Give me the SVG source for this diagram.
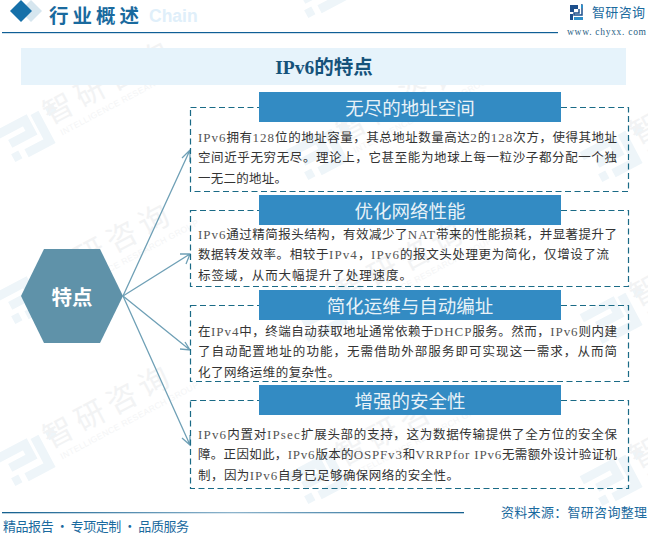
<svg xmlns="http://www.w3.org/2000/svg" width="648" height="534" viewBox="0 0 648 534">
<style>
.b{font-family:"Noto Sans CJK SC","Liberation Sans",sans-serif;font-size:12.5px;fill:#333}
.l{font-family:"Liberation Serif","Noto Sans CJK SC",serif;font-size:13px;letter-spacing:.5px;fill:#555}
.h{font-family:"Noto Sans CJK SC",sans-serif;font-size:18.5px;fill:#e8f2f8;text-anchor:middle}
.bar{fill:#338bc3}
.box{fill:none;stroke:#1a6a86;stroke-width:1.2;stroke-dasharray:6 3.500}
.a{fill:none;stroke:#6fa0b6;stroke-width:1.3}
.w{font-family:"Noto Sans CJK SC",sans-serif;font-size:30px;letter-spacing:6px;fill:#f2f3f4}
.ws{font-family:"Liberation Sans",sans-serif;font-size:8.500px;letter-spacing:.4px;fill:#f4f5f6}
.lg{fill:none;stroke:#eef5f9;stroke-width:9}
</style>
<defs>
<g id="wm">
<path class="lg" d="M-54 -16H-20V-2H-44M-48 12H-40M-8 -18V14H-34M8 -18V-8"/>
<text class="w" x="0" y="0">智研咨询</text>
<text class="ws" x="6" y="15">INTELLIGENCE RESEARCH GROUP</text>
</g>
<linearGradient id="fl"><stop offset="0" stop-color="#14608f"/><stop offset=".5" stop-color="#8db4cc"/><stop offset="1" stop-color="#14608f"/></linearGradient>
</defs>
<rect width="648" height="534" fill="#fff"/>
<g id="watermarks">
<use href="#wm" transform="translate(50 -37) rotate(-28)"/>
<use href="#wm" transform="translate(50 125) rotate(-28)"/>
<use href="#wm" transform="translate(50 287) rotate(-28)"/>
<use href="#wm" transform="translate(50 449) rotate(-28)"/>
<use href="#wm" transform="translate(343 -19) rotate(-28)"/>
<use href="#wm" transform="translate(343 143) rotate(-28)"/>
<use href="#wm" transform="translate(343 305) rotate(-28)"/>
<use href="#wm" transform="translate(343 467) rotate(-28)"/>
<use href="#wm" transform="translate(637 145) rotate(-28)"/>
<use href="#wm" transform="translate(637 307) rotate(-28)"/>
<use href="#wm" transform="translate(637 469) rotate(-28)"/>
<text x="149" y="22" font-family="Liberation Sans,sans-serif" font-weight="700" font-size="17.500" fill="#e0effa">Chain</text>
</g>
<g id="header">
<polygon points="31,0 42,11 31,22 20,11" fill="#d6e6ef"/>
<polygon points="21,0 32,11 21,22 10,11" fill="#1570a9"/>
<text x="49" y="22.700" font-family="Noto Sans CJK SC,sans-serif" font-weight="700" font-size="19.500" fill="#1a6a9e" textLength="90">行业概述</text>
<rect x="2" y="32" width="556" height="1.2" fill="#0f5f96"/>
<g id="logo">
<path d="M570 5h8v4h-4v3h-4zM570 14h3v6h-3z" fill="#1d4f8c"/>
<path d="M579 9v4h-5v2h8v-10h-1" fill="none" stroke="#1d4f8c" stroke-width="1.500"/>
<path d="M574 20h9v-3h-9zM581 5h2v3h-2z" fill="#2f8fc9"/>
<text x="592" y="17" font-family="Noto Sans CJK SC,sans-serif" font-size="13" fill="#1a6a9e" textLength="53">智研咨询</text>
<text x="567" y="35" font-family="Liberation Serif,serif" font-size="9.500" fill="#2a5f85" textLength="79">www. chyxx. com</text>
</g>
</g>
<g id="title">
<rect x="21" y="48" width="605" height="37" fill="#e6f3fb"/>
<text x="324" y="74" text-anchor="middle" font-family="Liberation Serif,Noto Sans CJK SC,serif" font-weight="700" font-size="19.500" fill="#15527a">IPv6的特点</text>
</g>
<g id="connectors">
<path class="a" d="M123 296L190 150M182 158L190 150L190 162"/>
<path class="a" d="M123 296L190 254M180 254L190 254L186 264"/>
<path class="a" d="M123 296L190 350M180 349L190 350L185 342"/>
<path class="a" d="M123 296L190 445M190 435L190 445L182 438"/>
</g>
<g id="hub">
<polygon points="21,296 44,249 100,249 123,296 100,343 44,343" fill="#5f92a9"/>
<text x="72" y="305" text-anchor="middle" font-family="Noto Sans CJK SC,sans-serif" font-weight="700" font-size="20.500" fill="#fff">特点</text>
</g>
<g id="n1">
<rect class="box" x="190.500" y="107.500" width="438" height="84"/>
<rect class="bar" x="259" y="92" width="302" height="30"/>
<text class="h" x="410" y="114.500">无尽的地址空间</text>
<text class="b" x="198" y="142" textLength="419"><tspan class="l">IPv6</tspan>拥有<tspan class="l">128</tspan>位的地址容量，其总地址数量高达<tspan class="l">2</tspan>的<tspan class="l">128</tspan>次方，使得其地址</text>
<text class="b" x="198" y="162" textLength="419">空间近乎无穷无尽。理论上，它甚至能为地球上每一粒沙子都分配一个独</text>
<text class="b" x="198" y="183" textLength="89">一无二的地址。</text>
</g>
<g id="n2">
<rect class="box" x="190.500" y="210.500" width="438" height="76"/>
<rect class="bar" x="259" y="195" width="302" height="30"/>
<text class="h" x="410" y="217.500">优化网络性能</text>
<text class="b" x="198" y="239" textLength="419"><tspan class="l">IPv6</tspan>通过精简报头结构，有效减少了<tspan class="l">NAT</tspan>带来的性能损耗，并显著提升了</text>
<text class="b" x="198" y="259" textLength="411">数据转发效率。相较于<tspan class="l">IPv4</tspan>，<tspan class="l">IPv6</tspan>的报文头处理更为简化，仅增设了流</text>
<text class="b" x="198" y="280" textLength="214">标签域，从而大幅提升了处理速度。</text>
</g>
<g id="n3">
<rect class="box" x="190.500" y="305.500" width="438" height="76"/>
<rect class="bar" x="259" y="290" width="302" height="30"/>
<text class="h" x="410" y="312.500">简化运维与自动编址</text>
<text class="b" x="198" y="336" textLength="419">在<tspan class="l">IPv4</tspan>中，终端自动获取地址通常依赖于<tspan class="l">DHCP</tspan>服务。然而，<tspan class="l">IPv6</tspan>则内建</text>
<text class="b" x="198" y="356" textLength="419">了自动配置地址的功能，无需借助外部服务即可实现这一需求，从而简</text>
<text class="b" x="198" y="377" textLength="142">化了网络运维的复杂性。</text>
</g>
<g id="n4">
<rect class="box" x="190.500" y="400.500" width="438" height="88"/>
<rect class="bar" x="259" y="385" width="302" height="30"/>
<text class="h" x="410" y="407.500">增强的安全性</text>
<text class="b" x="198" y="439" textLength="419"><tspan class="l">IPv6</tspan>内置对<tspan class="l">IPsec</tspan>扩展头部的支持，这为数据传输提供了全方位的安全保</text>
<text class="b" x="198" y="459" textLength="419">障。正因如此，<tspan class="l">IPv6</tspan>版本的<tspan class="l">OSPFv3</tspan>和<tspan class="l">VRRPfor IPv6</tspan>无需额外设计验证机</text>
<text class="b" x="198" y="480" textLength="261">制，因为<tspan class="l">IPv6</tspan>自身已足够确保网络的安全性。</text>
</g>
<g id="footer">
<rect x="2" y="512" width="462" height="1.300" fill="url(#fl)"/>
<text x="3" y="531" font-family="Noto Sans CJK SC,sans-serif" font-size="13" fill="#1a6a9e" textLength="186">精品报告 · 专项定制 · 品质服务</text>
<text x="501" y="517" font-family="Noto Sans CJK SC,sans-serif" font-size="13" fill="#1a6a9e" textLength="146">资料来源：智研咨询整理</text>
</g>
</svg>
